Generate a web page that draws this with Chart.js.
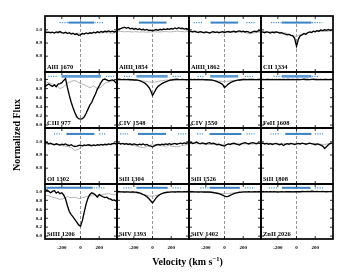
<!DOCTYPE html>
<html><head><meta charset="utf-8">
<script src="https://cdn.jsdelivr.net/npm/chart.js@4/dist/chart.umd.min.js"></script>
<style>
html,body{margin:0;padding:0;background:#fff;width:357px;height:272px;overflow:hidden;}
#wrap{position:relative;width:357px;height:272px;}
canvas{position:absolute;}
.lbl{position:absolute;font:bold 6.5px "Liberation Serif",serif;color:#000;white-space:nowrap;line-height:7px;}
.title{position:absolute;font:bold 10px "Liberation Serif",serif;color:#000;white-space:nowrap;line-height:12px;}
</style></head><body><div id="wrap"></div>
<script>
// ---------- DATA ----------
const VEL_FINE = [-380,-360,-340,-320,-300,-280,-260,-240,-220,-200,-180,-160,-140,-120,-100,-80,-60,-40,-20,0,20,40,60,80,100,120,140,160,180,200,220,240,260,280,300,320,340,360,380];
const VEL_COARSE = [-380,-340,-300,-260,-220,-180,-140,-100,-60,-20,20,60,100,140,180,220,260,300,340,380];
const X_TICKS = [-200,0,200];
const Y_TICKS_WEAK = [0.8,0.9,1.0];
const Y_TICKS_STRONG = [0.0,0.2,0.4,0.6,0.8,1.0];
const ZERO_VEL = 0;

const PANEL_NAMES = ['AlII 1670','AlIII 1854','AlIII 1862','CII 1334','CIII 977','CIV 1548','CIV 1550','FeII 1608','OI 1302','SiII 1304','SiII 1526','SiII 1808','SiIII 1206','SiIV 1393','SiIV 1402','ZnII 2026'];

const ALII_1670_OBS = [0.985,0.980,0.983,0.978,0.982,0.976,0.984,0.980,0.987,0.979,0.975,0.982,0.972,0.978,0.968,0.974,0.965,0.970,0.958,0.962,0.972,0.968,0.976,0.970,0.978,0.974,0.982,0.977,0.985,0.980,0.988,0.982,0.990,0.986,0.992,0.985,0.990,0.984,0.988];
const ALII_1670_CMP = [0.982,0.978,0.980,0.976,0.978,0.975,0.977,0.974,0.972,0.975,0.970,0.973,0.976,0.975,0.978,0.976,0.980,0.978,0.975,0.978];
const ALIII_1854_OBS = [0.998,1.005,1.010,1.015,1.020,1.012,1.018,1.008,1.012,1.005,1.010,1.002,1.008,1.000,1.004,0.998,1.003,0.995,0.998,0.992,0.998,1.002,0.996,1.004,1.000,1.006,1.002,1.008,1.004,1.010,1.006,1.014,1.008,1.016,1.010,1.012,1.006,1.010,1.004];
const ALIII_1854_CMP = [0.990,0.988,0.985,0.987,0.984,0.986,0.983,0.985,0.982,0.984,0.986,0.983,0.985,0.987,0.984,0.986,0.990,0.988,0.985,0.987];
const ALIII_1862_OBS = [0.990,0.988,0.985,0.990,0.984,0.980,0.986,0.982,0.978,0.984,0.980,0.976,0.982,0.986,0.980,0.984,0.978,0.982,0.986,0.980,0.984,0.988,0.982,0.986,0.990,0.984,0.988,0.992,0.986,0.990,0.984,0.988,0.982,0.978,0.984,0.990,0.986,0.992,0.995];
const ALIII_1862_CMP = [0.985,0.982,0.980,0.983,0.978,0.980,0.976,0.979,0.982,0.978,0.980,0.983,0.979,0.982,0.985,0.980,0.970,0.976,0.980,0.983];
const CII_1334_OBS = [0.985,0.982,0.978,0.984,0.980,0.976,0.982,0.978,0.984,0.980,0.976,0.978,0.972,0.968,0.962,0.965,0.958,0.955,0.935,0.875,0.930,0.955,0.962,0.972,0.966,0.978,0.984,0.980,0.990,0.986,0.994,0.990,0.998,0.994,1.000,0.996,1.002,0.996,1.000];
const CII_1334_CMP = [0.990,0.988,0.985,0.987,0.984,0.982,0.978,0.972,0.962,0.950,0.955,0.968,0.975,0.980,0.984,0.987,0.990,0.988,0.990,0.992];
const CIII_977_OBS = [0.84,0.88,0.90,0.87,0.85,0.88,0.84,0.90,0.91,0.93,0.98,1.02,0.82,0.65,0.50,0.38,0.27,0.18,0.14,0.13,0.14,0.18,0.26,0.35,0.44,0.50,0.60,0.68,0.79,0.86,0.94,1.00,1.01,0.99,0.97,0.98,0.99,0.97,0.92];
const CIII_977_CMP = [0.95,0.93,0.90,0.88,0.80,0.84,0.92,0.96,0.98,0.93,0.90,0.86,0.82,0.86,0.80,0.83,0.92,0.95,0.97,0.99];
const CIV_1548_OBS = [1.000,1.005,1.000,0.998,1.002,0.996,1.000,0.995,0.998,0.990,0.992,0.985,0.975,0.960,0.940,0.915,0.880,0.830,0.760,0.650,0.720,0.800,0.850,0.880,0.910,0.930,0.950,0.965,0.980,0.990,0.995,1.000,1.005,1.000,0.998,1.002,0.998,0.995,0.998];
const CIV_1548_CMP = [1.000,0.998,0.995,0.996,0.992,0.990,0.980,0.965,0.955,0.940,0.945,0.960,0.975,0.985,0.990,0.994,0.996,0.995,0.998,0.996];
const CIV_1550_OBS = [1.000,1.003,0.998,1.002,0.998,1.000,0.996,1.000,0.998,0.995,0.996,0.993,0.990,0.980,0.970,0.955,0.940,0.915,0.890,0.820,0.860,0.900,0.925,0.950,0.965,0.975,0.985,0.990,0.995,1.000,1.002,0.998,1.002,1.000,1.004,1.000,0.998,1.002,1.000];
const CIV_1550_CMP = [0.995,0.993,0.990,0.992,0.988,0.985,0.980,0.972,0.965,0.955,0.960,0.970,0.980,0.985,0.990,0.992,0.994,0.992,0.995,0.993];
const FEII_1608_OBS = [0.998,1.002,0.996,1.000,1.004,0.998,1.002,0.996,1.000,0.998,1.003,0.997,1.001,0.996,1.000,1.004,0.998,1.002,0.997,1.000,1.003,0.998,1.002,1.006,1.000,1.004,0.998,1.002,1.006,1.000,1.004,0.998,1.002,0.996,1.000,1.004,0.998,1.002,1.000];
const FEII_1608_CMP = [0.995,0.993,0.994,0.992,0.995,0.993,0.990,0.992,0.994,0.991,0.993,0.995,0.992,0.994,0.996,0.993,0.995,0.997,0.994,0.996];
const OI_1302_OBS = [0.990,0.995,0.985,0.990,0.982,0.978,0.985,0.980,0.975,0.982,0.978,0.984,0.976,0.972,0.978,0.970,0.965,0.968,0.972,0.975,0.970,0.976,0.972,0.978,0.974,0.970,0.976,0.972,0.978,0.975,0.980,0.976,0.982,0.978,0.984,0.980,0.986,0.990,0.985];
const OI_1302_CMP = [0.985,0.980,0.983,0.978,0.975,0.970,0.965,0.958,0.935,0.945,0.965,0.975,0.978,0.975,0.972,0.976,0.974,0.978,0.980,0.982];
const SIII_1304_OBS = [0.985,0.990,0.984,0.988,0.982,0.986,0.980,0.985,0.978,0.984,0.980,0.976,0.982,0.978,0.984,0.976,0.980,0.972,0.968,0.962,0.970,0.976,0.980,0.976,0.982,0.978,0.984,0.980,0.986,0.980,0.984,0.988,0.982,0.986,0.990,0.986,0.992,0.988,0.994];
const SIII_1304_CMP = [0.990,0.985,0.988,0.982,0.975,0.970,0.962,0.955,0.965,0.975,0.978,0.975,0.970,0.968,0.972,0.965,0.962,0.968,0.975,0.980];
const SIII_1526_OBS = [0.990,0.995,0.988,0.992,0.998,0.990,0.985,0.992,0.988,0.984,0.990,0.994,0.986,0.990,0.984,0.978,0.982,0.976,0.972,0.968,0.978,0.984,0.980,0.986,0.990,0.984,0.980,0.976,0.984,0.990,0.994,0.988,0.984,0.990,0.994,0.990,0.986,0.992,0.988];
const SIII_1526_CMP = [0.990,0.988,0.985,0.987,0.983,0.980,0.982,0.979,0.976,0.978,0.980,0.983,0.980,0.984,0.987,0.984,0.986,0.983,0.987,0.985];
const SIII_1808_OBS = [0.985,0.990,0.984,0.988,0.982,0.986,0.980,0.984,0.988,0.982,0.978,0.984,0.972,0.980,0.986,0.982,0.988,0.984,0.980,0.984,0.988,0.984,0.990,0.986,0.982,0.986,0.990,0.986,0.982,0.978,0.984,0.980,0.975,0.968,0.950,0.962,0.978,0.988,0.990];
const SIII_1808_CMP = [0.990,0.988,0.990,0.986,0.988,0.985,0.987,0.984,0.986,0.983,0.985,0.987,0.984,0.986,0.988,0.985,0.982,0.980,0.985,0.988];
const SIIII_1206_OBS = [1.02,1.03,1.00,0.97,1.00,1.02,0.96,0.99,0.95,0.97,0.92,0.83,0.68,0.55,0.48,0.43,0.37,0.31,0.25,0.22,0.35,0.54,0.72,0.85,0.93,0.97,0.95,0.92,0.87,0.93,0.90,0.88,0.86,0.87,0.84,0.83,0.80,0.81,0.78];
const SIIII_1206_CMP = [0.92,0.90,0.87,0.85,0.82,0.84,0.88,0.86,0.87,0.84,0.86,0.88,0.90,0.92,0.90,0.92,0.94,0.95,0.93,0.92];
const SIIV_1393_OBS = [0.990,0.992,0.988,0.990,0.986,0.990,0.988,0.985,0.988,0.986,0.985,0.975,0.965,0.950,0.930,0.910,0.880,0.840,0.790,0.740,0.800,0.860,0.900,0.930,0.950,0.965,0.975,0.980,0.985,0.988,0.990,0.986,0.990,0.992,0.988,0.990,0.993,0.990,0.992];
const SIIV_1393_CMP = [0.990,0.985,0.980,0.975,0.970,0.965,0.950,0.930,0.910,0.890,0.900,0.920,0.950,0.970,0.980,0.985,0.990,0.988,0.990,0.992];
const SIIV_1402_OBS = [0.990,0.988,0.992,0.988,0.990,0.986,0.990,0.988,0.986,0.988,0.986,0.985,0.980,0.975,0.968,0.958,0.948,0.932,0.915,0.895,0.882,0.890,0.910,0.930,0.950,0.962,0.972,0.980,0.985,0.988,0.990,0.988,0.992,0.990,0.988,0.992,0.990,0.994,0.990];
const SIIV_1402_CMP = [0.985,0.982,0.980,0.978,0.976,0.975,0.970,0.962,0.955,0.950,0.952,0.958,0.965,0.972,0.978,0.980,0.983,0.982,0.985,0.984];
const ZNII_2026_OBS = [0.990,0.993,0.988,0.992,0.990,0.994,0.988,0.992,0.990,0.986,0.990,0.994,0.990,0.992,0.996,0.992,0.994,0.990,0.994,0.992,0.996,0.992,0.998,0.994,0.996,1.000,0.996,1.002,0.998,0.994,0.998,0.994,0.996,1.000,0.996,0.992,0.996,0.994,0.998];
const ZNII_2026_CMP = [0.992,0.990,0.992,0.989,0.991,0.990,0.992,0.990,0.988,0.990,0.992,0.990,0.993,0.991,0.994,0.992,0.994,0.993,0.995,0.993];

// velocity integration windows (km/s)
const SOLID_WIN = [[-130,145],[-146,150],[-150,146],[-160,160],[-205,220],[-172,162],[-153,146],[-156,160],[-151,148],[-155,145],[-160,181],[-121,160],[-365,130],[-172,162],[-160,164],[-156,150]];
const DOT_LEFT_WIN = [[-225,-135],null,[-330,-235],[-275,-165],[-345,-240],[-306,-225],[-288,-216],[-245,-160],[-285,-204],[-348,-261],[-293,-216],[-280,-174],null,[-313,-225],[-260,-172],[-297,-192]];
const DOT_RIGHT_WIN = [[150,250],null,[233,330],[165,275],[270,360],[215,303],[216,304],[165,240],[200,271],[272,360],[234,322],[195,283],[140,255],[215,303],[216,322],[195,283]];
const BAR_LEVEL = [1.055,1.07,1.06,1.08]; // flux level of window bars per row

const OBS = [ALII_1670_OBS,ALIII_1854_OBS,ALIII_1862_OBS,CII_1334_OBS,CIII_977_OBS,CIV_1548_OBS,CIV_1550_OBS,FEII_1608_OBS,OI_1302_OBS,SIII_1304_OBS,SIII_1526_OBS,SIII_1808_OBS,SIIII_1206_OBS,SIIV_1393_OBS,SIIV_1402_OBS,ZNII_2026_OBS];
const CMP = [ALII_1670_CMP,ALIII_1854_CMP,ALIII_1862_CMP,CII_1334_CMP,CIII_977_CMP,CIV_1548_CMP,CIV_1550_CMP,FEII_1608_CMP,OI_1302_CMP,SIII_1304_CMP,SIII_1526_CMP,SIII_1808_CMP,SIIII_1206_CMP,SIIV_1393_CMP,SIIV_1402_CMP,ZNII_2026_CMP];

// ---------- LAYOUT ----------
const COL_LEFT=[45,117,189,261], ROW_TOP=[16,72,128,184], ROW_H=[56,56,56,55], PW=72;
const PADL=20, PADR=4, PADT=4, PADB=16;
const X_MIN=-380, X_MAX=390;
const FONT='"Liberation Serif", "Times New Roman", serif';

const framePlugin = {
  id:'frame',
  afterDraw(chart){
    const {ctx, chartArea:a, scales:{x,y}} = chart;
    ctx.save();
    ctx.strokeStyle='#000'; ctx.lineWidth=0.8;
    ctx.beginPath();
    x.ticks.forEach(t=>{const px=x.getPixelForValue(t.value);
      ctx.moveTo(px,a.bottom); ctx.lineTo(px,a.bottom-3);
      ctx.moveTo(px,a.top); ctx.lineTo(px,a.top+3);});
    y.ticks.forEach(t=>{const py=y.getPixelForValue(t.value);
      ctx.moveTo(a.left,py); ctx.lineTo(a.left+3,py);
      ctx.moveTo(a.right,py); ctx.lineTo(a.right-3,py);});
    ctx.stroke();
    ctx.lineWidth=1.7;
    ctx.strokeRect(a.left,a.top,a.right-a.left,a.bottom-a.top);
    ctx.restore();
  }
};
const zeroPad=s=>{s.paddingTop=0;s.paddingBottom=0;s.paddingLeft=0;s.paddingRight=0;};

const wrap=document.getElementById('wrap');
const pts=(xs,ys)=>xs.map((v,i)=>({x:v,y:ys[i]}));
const seg=(w,lev)=>w?[{x:w[0],y:lev},{x:w[1],y:lev}]:[];

for(let i=0;i<16;i++){
  const r=Math.floor(i/4), c=i%4, h=ROW_H[r];
  const strong=(r===1||r===3);
  const yMin=strong?-0.065:0.68, yMax=strong?1.165:1.105;
  const yTicks=strong?Y_TICKS_STRONG:Y_TICKS_WEAK;
  const lev=BAR_LEVEL[r];
  const cv=document.createElement('canvas');
  cv.width=PADL+PW+PADR; cv.height=PADT+h+PADB;
  cv.style.left=(COL_LEFT[c]-PADL)+'px'; cv.style.top=(ROW_TOP[r]-PADT)+'px';
  wrap.appendChild(cv);
  new Chart(cv,{
    type:'line',
    data:{datasets:[
      {data:pts(VEL_FINE,OBS[i]),borderColor:'#000',borderWidth:1.35,order:1},
      {data:seg(SOLID_WIN[i],lev),borderColor:r===1?'#5b9bd5':'#3b82c4',borderWidth:r===1?2.6:2,order:2},
      {data:seg(DOT_LEFT_WIN[i],lev),borderColor:'#4f96d6',borderWidth:1.3,borderDash:[1.2,1.2],order:2},
      {data:seg(DOT_RIGHT_WIN[i],lev),borderColor:'#4f96d6',borderWidth:1.3,borderDash:[1.2,1.2],order:2},
      {data:pts(VEL_COARSE,CMP[i]),borderColor:'#a6a6a6',borderWidth:0.85,order:3},
      {data:[{x:ZERO_VEL,y:yMin},{x:ZERO_VEL,y:yMax}],borderColor:'#777',borderWidth:0.8,borderDash:[3,2],order:4}
    ]},
    options:{
      responsive:false, animation:false, devicePixelRatio:1,
      layout:{autoPadding:false,padding:{left:0,right:PADR,top:PADT,bottom:0}},
      plugins:{legend:{display:false},tooltip:{enabled:false},title:{display:false}},
      elements:{point:{radius:0,hoverRadius:0,hitRadius:0,borderWidth:0},line:{tension:0}},
      scales:{
        x:{type:'linear',min:X_MIN,max:X_MAX,
          afterBuildTicks:s=>{s.ticks=X_TICKS.map(v=>({value:v}));},
          afterFit:s=>{s.height=PADB;zeroPad(s);},
          grid:{display:false,drawTicks:false},border:{display:false},
          ticks:{display:r===3,padding:6,color:'#000',font:{family:FONT,size:5,weight:'bold'},maxRotation:0,callback:v=>String(v)}},
        y:{type:'linear',min:yMin,max:yMax,
          afterBuildTicks:s=>{s.ticks=yTicks.map(v=>({value:v}));},
          afterFit:s=>{s.width=PADL;zeroPad(s);},
          grid:{display:false,drawTicks:false},border:{display:false},
          ticks:{display:c===0,padding:3,color:'#000',font:{family:FONT,size:5,weight:'bold'},callback:v=>Number(v).toFixed(1)}}
      }
    },
    plugins:[framePlugin]
  });
  const d=document.createElement('div');
  d.className='lbl'; d.textContent=PANEL_NAMES[i];
  d.style.left=(COL_LEFT[c]+2)+'px'; d.style.top=(ROW_TOP[r]+h-9)+'px';
  wrap.appendChild(d);
}
const yt=document.createElement('div');
yt.className='title'; yt.textContent='Normalized Flux';
yt.style.left='16.7px'; yt.style.top='135px'; yt.style.transform='translate(-50%,-50%) rotate(-90deg)';
wrap.appendChild(yt);
const xt=document.createElement('div');
xt.className='title'; xt.innerHTML='Velocity (km s<span style="font-size:6.5px;vertical-align:4px">\u22121</span>)';
xt.style.left='187.5px'; xt.style.top='260px'; xt.style.transform='translate(-50%,-50%)';
wrap.appendChild(xt);
</script></body></html>
